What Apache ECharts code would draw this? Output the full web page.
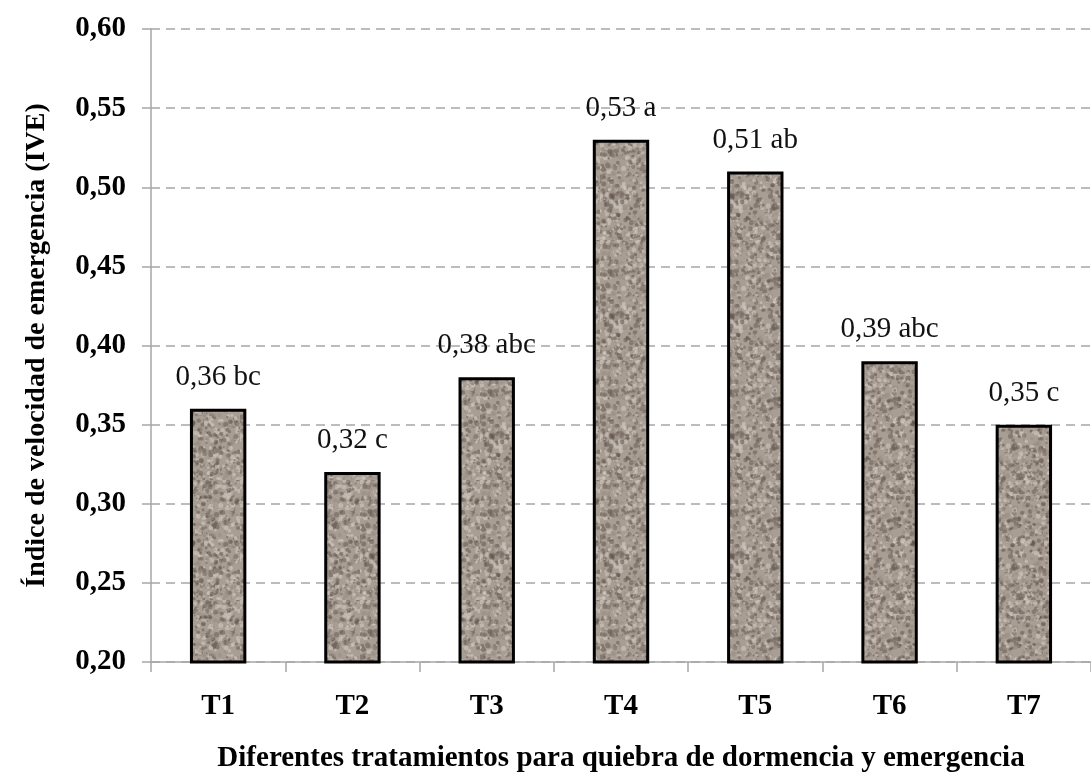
<!DOCTYPE html>
<html>
<head>
<meta charset="utf-8">
<script src="https://cdn.jsdelivr.net/npm/echarts@6/dist/echarts.min.js"></script>
<style>
  html, body { margin: 0; padding: 0; background: #fff; }
  #main { width: 1091px; height: 778px; }
</style>
</head>
<body>
<div id="main"></div>
<script>
const categories = ['T1', 'T2', 'T3', 'T4', 'T5', 'T6', 'T7']
const ive = [0.36, 0.32, 0.38, 0.53, 0.51, 0.39, 0.35]
const letters = ['bc', 'c', 'abc', 'a', 'ab', 'abc', 'c']
const yTicks = [0.2, 0.25, 0.3, 0.35, 0.4, 0.45, 0.5, 0.55, 0.6]

const serif = '"Liberation Serif", "DejaVu Serif", serif'

// granite-like fill, seeded so it is the same every run
function makeTexture() {
  const c = document.createElement('canvas')
  c.width = 120
  c.height = 120
  const ctx = c.getContext('2d')
  ctx.fillStyle = '#a99e94'
  ctx.fillRect(0, 0, 120, 120)
  let s = 4242
  const rnd = () => {
    s = (s * 16807) % 2147483647
    return s / 2147483647
  }
  ctx.filter = 'blur(0.7px)'
  for (let i = 0; i < 1400; i++) {
    const x = rnd() * 120
    const y = rnd() * 120
    const r = 0.8 + rnd() * 1.8
    const t = rnd()
    let col
    if (t < 0.38) col = 'rgba(100,88,80,0.5)'
    else if (t < 0.72) col = 'rgba(212,204,196,0.55)'
    else col = 'rgba(150,138,128,0.5)'
    ctx.fillStyle = col
    ctx.beginPath()
    ctx.arc(x, y, r, 0, Math.PI * 2)
    ctx.fill()
  }
  return c
}

const chart = echarts.init(document.getElementById('main'))

const option = {
  animation: false,
  backgroundColor: '#fff',
  grid: {
    left: 151,
    top: 29,
    width: 948,
    height: 636,
    containLabel: false,
  },
  xAxis: {
    type: 'category',
    data: categories,
    name: 'Diferentes tratamientos para quiebra de dormencia y emergencia',
    nameLocation: 'middle',
    nameGap: 82,
    nameTextStyle: {
      fontFamily: serif,
      fontWeight: 'bold',
      fontSize: 29,
      color: '#000',
    },
    axisLine: { lineStyle: { color: '#a6a6a6', width: 1.5 } },
    axisTick: { show: true, length: 10, lineStyle: { color: '#a6a6a6', width: 1.5 } },
    axisLabel: {
      fontFamily: serif,
      fontWeight: 'bold',
      fontSize: 29,
      color: '#000',
      margin: 30,
    },
  },
  yAxis: {
    type: 'value',
    min: 0.2,
    max: 0.6,
    interval: 0.05,
    name: 'Índice de velocidad de emergencia (IVE)',
    nameLocation: 'middle',
    nameGap: 100,
    nameTextStyle: {
      fontFamily: serif,
      fontWeight: 'bold',
      fontSize: 28,
      color: '#000',
    },
    axisLine: { show: true, lineStyle: { color: '#a6a6a6', width: 1.5 } },
    axisTick: { show: true, length: 9, lineStyle: { color: '#a6a6a6', width: 1.5 } },
    axisLabel: {
      fontFamily: serif,
      fontWeight: 'bold',
      fontSize: 29,
      color: '#000',
      margin: 25,
      formatter: (v) => {
        const t = yTicks.find((k) => Math.abs(k - v) < 1e-6)
        return (t !== undefined ? t : v).toFixed(2).replace('.', ',')
      },
    },
    splitLine: {
      show: true,
      lineStyle: { color: '#a6a6a6', type: [9, 6], width: 1.5 },
    },
  },
  series: [
    {
      type: 'bar',
      data: ive,
      barWidth: '42%',
      itemStyle: {
        color: { image: makeTexture(), repeat: 'repeat' },
        borderColor: '#000',
        borderWidth: 3,
      },
      label: {
        show: true,
        position: 'top',
        distance: 17,
        fontFamily: serif,
        fontSize: 29,
        color: '#111',
        formatter: (p) => p.value.toFixed(2).replace('.', ',') + ' ' + letters[p.dataIndex],
      },
    },
  ],
}

chart.setOption(option)
</script>
</body>
</html>
